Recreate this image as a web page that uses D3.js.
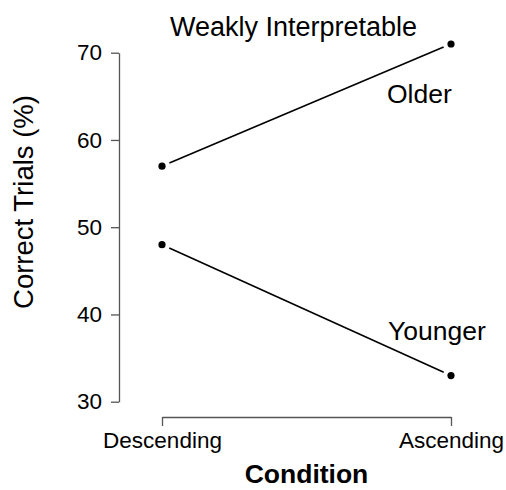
<!DOCTYPE html>
<html>
  <head>
    <title>Weakly Interpretable</title>
    <meta charset="utf-8" />
    <style>
      body { margin: 0; background: #fff; }
    </style>
  </head>
  <body>
    <div id="chart"></div>
    <script src="https://d3js.org/d3.v7.min.js"></script>
    <script type="text/javascript">
        const conditions = ["Descending", "Ascending"];
        const older = [57, 71];
        const younger = [48, 33];
        const yTicks = [30, 40, 50, 60, 70];
        const groups = ["Older", "Younger"];

        const width = 506;
        const height = 490;
        const font = "Liberation Sans, Arial, Helvetica, sans-serif";

        const x = d3.scalePoint()
            .domain(conditions)
            .range([162, 451]);
        const y = d3.scaleLinear()
            .domain([30, 70])
            .range([401.7, 52.7]);

        const svg = d3.select("#chart")
            .append("svg")
            .attr("width", width)
            .attr("height", height);

        const axisColor = "#555";

        // y axis
        svg.append("g")
            .attr("transform", "translate(119,0)")
            .call(d3.axisLeft(y).tickValues(yTicks).tickSize(8).tickSizeOuter(0).tickPadding(9))
            .call(g => g.selectAll("path, line").attr("stroke", axisColor).attr("stroke-width", 1.3))
            .call(g => g.selectAll("text")
                .attr("font-family", font)
                .attr("font-size", 22.5)
                .attr("fill", "#000"));

        // x axis
        svg.append("g")
            .attr("transform", "translate(0,417)")
            .call(d3.axisBottom(x).tickSize(9).tickSizeOuter(0).tickPadding(6))
            .call(g => g.selectAll("path, line").attr("stroke", axisColor).attr("stroke-width", 1.3))
            .call(g => g.selectAll("text")
                .attr("font-family", font)
                .attr("font-size", 22.5)
                .attr("fill", "#000"));

        // lines with a small gap near each point, like type = "b"
        const gap = 8;
        const series = [older, younger];
        series.forEach(vals => {
            const pts = vals.map((v, i) => [x(conditions[i]), y(v)]);
            for (let i = 0; i < pts.length - 1; i++) {
                const [x0, y0] = pts[i];
                const [x1, y1] = pts[i + 1];
                const len = Math.hypot(x1 - x0, y1 - y0);
                const ux = (x1 - x0) / len, uy = (y1 - y0) / len;
                svg.append("line")
                    .attr("x1", x0 + ux * gap)
                    .attr("y1", y0 + uy * gap)
                    .attr("x2", x1 - ux * gap)
                    .attr("y2", y1 - uy * gap)
                    .attr("stroke", "#000")
                    .attr("stroke-width", 1.6);
            }
            svg.append("g")
                .selectAll("circle")
                .data(vals)
                .join("circle")
                .attr("cx", (d, i) => x(conditions[i]))
                .attr("cy", d => y(d))
                .attr("r", 3.6)
                .attr("fill", "#000");
        });

        // group labels
        svg.append("text")
            .attr("x", 387)
            .attr("y", 103)
            .attr("font-family", font)
            .attr("font-size", 26.5)
            .text(groups[0]);
        svg.append("text")
            .attr("x", 388)
            .attr("y", 340)
            .attr("font-family", font)
            .attr("font-size", 26.5)
            .text(groups[1]);

        // title
        svg.append("text")
            .attr("x", 293.5)
            .attr("y", 36)
            .attr("text-anchor", "middle")
            .attr("font-family", font)
            .attr("font-size", 27)
            .text("Weakly Interpretable");

        // axis titles
        svg.append("text")
            .attr("x", 306.5)
            .attr("y", 483)
            .attr("text-anchor", "middle")
            .attr("font-family", font)
            .attr("font-size", 26.5)
            .attr("font-weight", "bold")
            .text("Condition");

        svg.append("text")
            .attr("transform", "translate(33,202) rotate(-90)")
            .attr("text-anchor", "middle")
            .attr("font-family", font)
            .attr("font-size", 27.5)
            .text("Correct Trials (%)");
    </script>
  </body>
</html>
